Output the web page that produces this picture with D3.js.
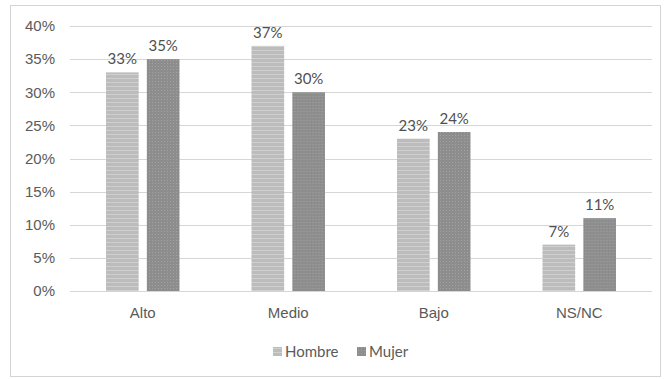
<!DOCTYPE html>
<html>
<head>
<meta charset="utf-8">
<script src="https://cdn.jsdelivr.net/npm/d3@7"></script>
<style>
  html, body { margin: 0; padding: 0; background: #fff; }
  svg { display: block; font-family: Lato, "Open Sans", sans-serif; }
</style>
</head>
<body>
<svg id="chart" width="665" height="379"></svg>
<script>
// Nivel por sexo (porcentaje)
const categories = ["Alto", "Medio", "Bajo", "NS/NC"];
const seriesNames = ["Hombre", "Mujer"];
const hombre = [33, 37, 23, 7];
const mujer = [35, 30, 24, 11];
const yTicks = [0, 5, 10, 15, 20, 25, 30, 35, 40];

const svg = d3.select("#chart");
const W = 665, H = 379;
const margin = { top: 26, right: 13, bottom: 88, left: 70 };
const plotW = W - margin.left - margin.right;
const plotH = H - margin.top - margin.bottom;
const FS = 15;
const TXT = "#5a5a5a";

// Texturas de las barras
const defs = svg.append("defs");
const pH = defs.append("pattern").attr("id", "pat-hombre")
  .attr("patternUnits", "userSpaceOnUse").attr("width", 4).attr("height", 4);
pH.append("rect").attr("width", 4).attr("height", 4).attr("fill", "#bcbcbc");
pH.append("rect").attr("y", 0).attr("width", 4).attr("height", 1).attr("fill", "#cfcfcf");
const pM = defs.append("pattern").attr("id", "pat-mujer")
  .attr("patternUnits", "userSpaceOnUse").attr("width", 3).attr("height", 3);
pM.append("rect").attr("width", 3).attr("height", 3).attr("fill", "#8d8d8d");
pM.append("rect").attr("x", 1).attr("y", 1).attr("width", 1).attr("height", 1).attr("fill", "#a3a3a3");

// Marco del gráfico
svg.append("rect").attr("x", 10.5).attr("y", 5.5).attr("width", 650).attr("height", 371)
  .attr("fill", "none").attr("stroke", "#d4d4d4");

const g = svg.append("g").attr("transform", `translate(${margin.left},${margin.top})`);

const x0 = d3.scaleBand().domain(categories).range([0, plotW]).paddingInner(0).paddingOuter(0);
const x1 = d3.scaleBand().domain(seriesNames).range([36, x0.bandwidth() - 36]).paddingInner(0.2);
const y = d3.scaleLinear().domain([0, 40]).range([plotH, 0]);

// Líneas de cuadrícula
g.append("g").selectAll("line").data(yTicks).join("line")
  .attr("x1", 0).attr("x2", plotW)
  .attr("y1", d => Math.round(y(d)) + 0.5).attr("y2", d => Math.round(y(d)) + 0.5)
  .attr("stroke", "#d6d6d6").attr("stroke-width", 1);

// Eje Y
const yAxis = g.append("g").attr("transform", "translate(-15,0)")
  .call(d3.axisLeft(y).tickValues(yTicks).tickFormat(d => d + "%").tickSize(0).tickPadding(0));
yAxis.select(".domain").remove();
yAxis.selectAll("text").attr("fill", TXT).attr("font-size", FS).attr("font-family", null);

// Eje X
const xAxis = g.append("g").attr("transform", `translate(0,${plotH})`)
  .call(d3.axisBottom(x0).tickSize(0).tickPadding(16));
xAxis.select(".domain").remove();
xAxis.selectAll("text").attr("fill", TXT).attr("font-size", FS).attr("font-family", null);

const rows = categories.map((c, i) => ({ cat: c, vals: [
  { s: "Hombre", v: hombre[i] }, { s: "Mujer", v: mujer[i] }] }));
const fills = { Hombre: "url(#pat-hombre)", Mujer: "url(#pat-mujer)" };

const groups = g.selectAll(".cat").data(rows).join("g")
  .attr("transform", d => `translate(${x0(d.cat)},0)`);

groups.selectAll("rect").data(d => d.vals).join("rect")
  .attr("x", d => x1(d.s)).attr("width", x1.bandwidth())
  .attr("y", d => y(d.v)).attr("height", d => plotH - y(d.v))
  .attr("fill", d => fills[d.s]);

groups.selectAll("text.lbl").data(d => d.vals).join("text").attr("class", "lbl")
  .attr("x", d => x1(d.s) + x1.bandwidth() / 2)
  .attr("y", d => y(d.v) - 8)
  .attr("text-anchor", "middle").attr("font-size", FS).attr("fill", "#505050")
  .text(d => d.v + "%");

// Leyenda
const legend = svg.append("g").attr("transform", "translate(0,352)");
const items = [{ s: "Hombre", x: 273 }, { s: "Mujer", x: 357 }];
items.forEach(it => {
  legend.append("rect").attr("x", it.x).attr("y", -5).attr("width", 9).attr("height", 9)
    .attr("fill", fills[it.s]);
  legend.append("text").attr("x", it.x + 12).attr("y", 0).attr("dy", "0.35em")
    .attr("font-size", FS).attr("fill", TXT).text(it.s);
});
</script>
</body>
</html>
